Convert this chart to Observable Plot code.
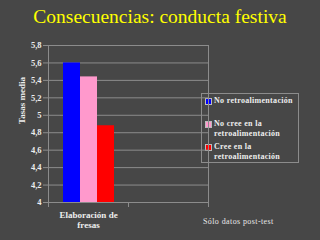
<!DOCTYPE html>
<html>
<head>
<meta charset="utf-8">
<script src="https://cdn.jsdelivr.net/npm/d3@7"></script>
<script src="https://cdn.jsdelivr.net/npm/@observablehq/plot@0.6"></script>
<style>
  html, body { margin: 0; padding: 0; background: #474747; }
  #wrap { position: relative; width: 320px; height: 240px; overflow: hidden; background: #474747; font-family: "Liberation Serif", "DejaVu Serif", serif; }
  #wrap svg { position: absolute; left: 0; top: 0; }
  #title { position: absolute; left: 0; top: 5px; width: 320px; text-align: center; color: #ffff00; font-size: 19.5px; line-height: 24px; white-space: nowrap; }
  #legend { position: absolute; left: 201px; top: 93px; width: 96px; height: 68px; border: 1px solid #8c8c8c; background: #474747; }
  .item { position: absolute; left: 3px; display: flex; align-items: flex-start; color: #eeeeee; font-weight: bold; font-size: 8px; line-height: 10px; letter-spacing: 0.3px; white-space: nowrap; }
  .sw { width: 5px; height: 5px; border: 0.5px solid #bbbbbb; margin-top: 2px; margin-right: 2px; flex: none; }
  #caption { position: absolute; left: 203px; top: 217px; color: #e8e8e8; font-size: 8px; letter-spacing: 0.4px; white-space: nowrap; }
</style>
</head>
<body>
<div id="wrap">
  <div id="title"></div>
  <div id="legend"></div>
  <div id="caption"></div>
</div>
<script>
const titleText = "Consecuencias: conducta festiva";
const captionText = "Sólo datos post-test";
const yLabel = "Tasas media";
const categories = ["Elaboración de\nfresas", ""];
const series = ["No retroalimentación", "No cree en la retroalimentación", "Cree en la retroalimentación"];
const legendLines = [["No retroalimentación"], ["No cree en la", "retroalimentación"], ["Cree en la", "retroalimentación"]];
const values = [5.6, 5.44, 4.88];
const colors = ["#0000ff", "#ff99cc", "#ff0000"];
const yTicks = [4, 4.2, 4.4, 4.6, 4.8, 5, 5.2, 5.4, 5.6, 5.8];
const yDomain = [4, 5.8];

const data = series.map((s, i) => ({category: categories[0], series: s, value: values[i]}));
const grid = categories.flatMap(c => yTicks.map(v => ({category: c, v})));
const fmt = d => d3.format(".1~f")(d).replace(".", ",");

const chart = Plot.plot({
  width: 320,
  height: 240,
  marginLeft: 48,
  marginRight: 112,
  marginTop: 45,
  marginBottom: 38,
  style: {background: "transparent", color: "#eeeeee", fontFamily: "Liberation Serif", fontSize: "8.5px", fontWeight: "bold"},
  fx: {domain: categories, padding: 0, label: null},
  x: {domain: series, paddingInner: 0, paddingOuter: 0.76, axis: null},
  y: {domain: yDomain, axis: null},
  color: {domain: series, range: colors},
  marks: [
    Plot.ruleY(grid, {fx: "category", y: "v", stroke: "#8c8c8c", strokeOpacity: 1}),
    Plot.barY(data, {fx: "category", x: "series", y1: () => yDomain[0], y2: "value", fill: "series"}),
    Plot.frame({anchor: "left", facetAnchor: "left", stroke: "#8c8c8c"}),
    Plot.frame({anchor: "right", facetAnchor: "right", stroke: "#8c8c8c"}),
    Plot.frame({anchor: "left", insetTop: 157, insetBottom: -4, stroke: "#8c8c8c"}),
    Plot.frame({anchor: "right", facetAnchor: "right", insetTop: 157, insetBottom: -4, stroke: "#8c8c8c"}),
    Plot.axisY(yTicks, {anchor: "left", tickFormat: fmt, tickSize: 5, tickPadding: 2, stroke: "#8c8c8c", label: null, fill: "#eeeeee"}),
    Plot.axisFx({anchor: "bottom", tickSize: 0, tickPadding: 8, lineHeight: 1.15, label: null, fill: "#eeeeee", fontSize: 9}),
    Plot.text([{fx: categories[0], t: yLabel}], {fx: "fx", text: "t", frameAnchor: "left", rotate: -90, dx: -26, fill: "#eeeeee", fontSize: 9})
  ]
});
document.getElementById("wrap").appendChild(chart);
document.getElementById("title").textContent = titleText;
document.getElementById("caption").textContent = captionText;

const legend = document.getElementById("legend");
const tops = [2, 25, 48];
series.forEach((s, i) => {
  const item = document.createElement("div");
  item.className = "item";
  item.style.top = tops[i] + "px";
  const sw = document.createElement("div");
  sw.className = "sw";
  sw.style.background = colors[i];
  const txt = document.createElement("div");
  txt.innerHTML = legendLines[i].join("<br>");
  item.appendChild(sw);
  item.appendChild(txt);
  legend.appendChild(item);
});
</script>
</body>
</html>
